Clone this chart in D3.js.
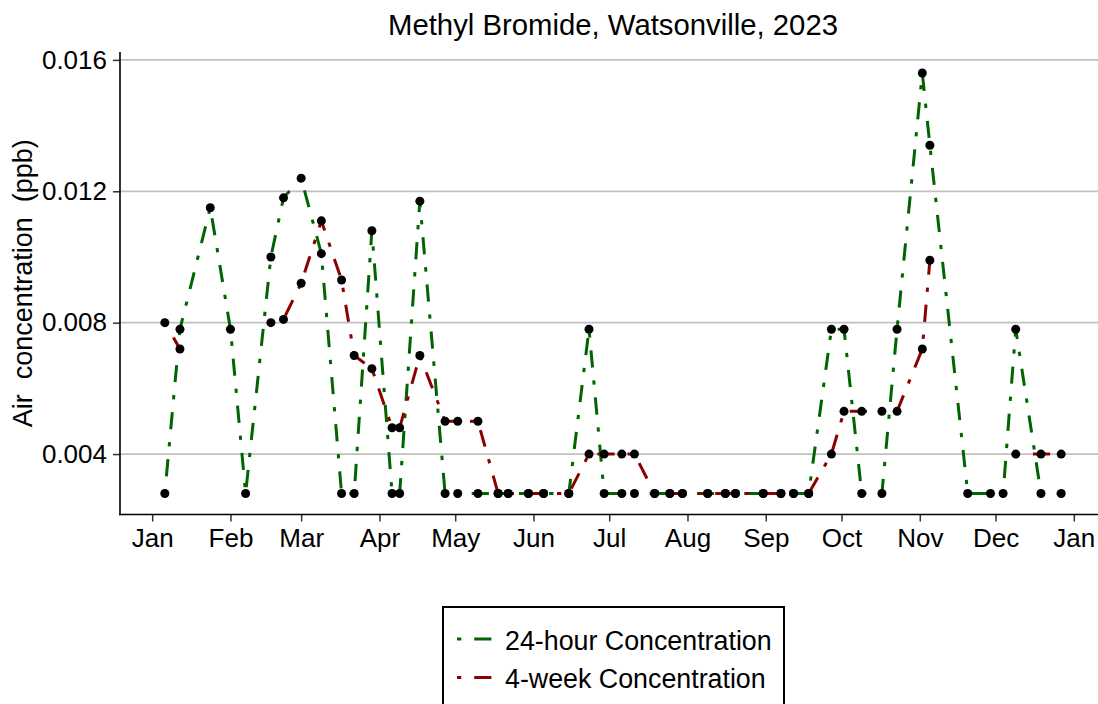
<!DOCTYPE html>
<html>
<head>
<meta charset="utf-8">
<script src="https://cdn.jsdelivr.net/npm/d3@7/dist/d3.min.js"></script>
<style>
  html, body { margin: 0; padding: 0; background: #fff; }
  svg { display: block; }
  text { font-family: "Liberation Sans", Arial, sans-serif; white-space: pre; }
</style>
</head>
<body>
<svg id="chart" width="1098" height="704"></svg>
<script>
// ---------------- data ----------------
const title = "Methyl Bromide, Watsonville, 2023";
const yTitle = "Air  concentration  (ppb)";
const seriesNames = ["24-hour Concentration", "4-week Concentration"];
const seriesColors = ["#006400", "#8b0000"];

const sampleDates = [
  "2023-01-06","2023-01-12","2023-01-24","2023-02-01","2023-02-07","2023-02-17",
  "2023-02-22","2023-03-01","2023-03-09","2023-03-17","2023-03-22","2023-03-29",
  "2023-04-06","2023-04-09","2023-04-17","2023-04-27","2023-05-02","2023-05-10",
  "2023-05-18","2023-05-22","2023-05-30","2023-06-05","2023-06-15","2023-06-23",
  "2023-06-29","2023-07-06","2023-07-11","2023-07-19","2023-07-25","2023-07-30",
  "2023-08-09","2023-08-16","2023-08-20","2023-08-31","2023-09-07","2023-09-12",
  "2023-09-18","2023-09-27","2023-10-02","2023-10-09","2023-10-17","2023-10-23",
  "2023-11-02","2023-11-05","2023-11-20","2023-11-29","2023-12-04","2023-12-09",
  "2023-12-19","2023-12-27"
];

const conc24h = [
  0.0028, 0.0078, 0.0115, 0.0078, 0.0028, 0.0100,
  0.0118, 0.0124, 0.0101, 0.0028, 0.0028, 0.0108,
  0.0028, 0.0028, 0.0117, 0.0028, 0.0028, 0.0028,
  0.0028, 0.0028, 0.0028, 0.0028, 0.0028, 0.0078,
  0.0028, 0.0028, 0.0028, 0.0028, 0.0028, 0.0028,
  0.0028, 0.0028, 0.0028, 0.0028, 0.0028, 0.0028,
  0.0028, 0.0078, 0.0078, 0.0028, 0.0028, 0.0078,
  0.0156, 0.0134, 0.0028, 0.0028, 0.0028, 0.0078,
  0.0028, 0.0028
];

const conc4wk = [
  0.0080, 0.0072, null,   null,   null,   0.0080,
  0.0081, 0.0092, 0.0111, 0.0093, 0.0070, 0.0066,
  0.0048, 0.0048, 0.0070, 0.0050, 0.0050, 0.0050,
  0.0028, 0.0028, 0.0028, 0.0028, 0.0028, 0.0040,
  0.0040, 0.0040, 0.0040, 0.0028, 0.0028, 0.0028,
  0.0028, 0.0028, 0.0028, 0.0028, 0.0028, 0.0028,
  0.0028, 0.0040, 0.0053, 0.0053, 0.0053, 0.0053,
  0.0072, 0.0099, null,   null,   null,   0.0040,
  0.0040, 0.0040
];

const yTickValues = [0.004, 0.008, 0.012, 0.016];
const xTickStart = "2023-01-01", xTickEnd = "2024-01-01";

// ---------------- layout ----------------
const svg = d3.select("#chart");
const panel = { left: 120, right: 1106, top: 52, bottom: 514.5 };
const parse = d3.utcParse("%Y-%m-%d");
const dates = sampleDates.map(parse);

const allVals = conc24h.concat(conc4wk).filter(v => v != null);
const xExt = d3.extent(dates), xSpan = xExt[1] - xExt[0];
const yExt = d3.extent(allVals), ySpan = yExt[1] - yExt[0];

const x = d3.scaleUtc()
  .domain([new Date(+xExt[0] - 0.05 * xSpan), new Date(+xExt[1] + 0.05 * xSpan)])
  .range([panel.left, panel.right]);
const y = d3.scaleLinear()
  .domain([yExt[0] - 0.05 * ySpan, yExt[1] + 0.05 * ySpan])
  .range([panel.bottom, panel.top]);

svg.append("defs").append("clipPath").attr("id", "pclip")
  .append("rect").attr("x", panel.left).attr("y", panel.top - 6)
  .attr("width", panel.right - panel.left).attr("height", panel.bottom - panel.top + 6);

// gridlines
svg.append("g").selectAll("line").data(yTickValues).join("line")
  .attr("x1", panel.left).attr("x2", panel.right)
  .attr("y1", d => y(d)).attr("y2", d => y(d))
  .attr("stroke", "#c0c0c0").attr("stroke-width", 1.8);

// lines
const dash = "4.3,12.9,17.2,12.9";
const seriesVals = [conc24h, conc4wk];
const plotG = svg.append("g").attr("clip-path", "url(#pclip)");
seriesVals.forEach((vals, i) => {
  const line = d3.line()
    .defined((d, j) => vals[j] != null)
    .x((d, j) => x(dates[j]))
    .y((d, j) => y(vals[j]));
  plotG.append("path")
    .attr("d", line(vals))
    .attr("fill", "none")
    .attr("stroke", seriesColors[i])
    .attr("stroke-width", 3)
    .attr("stroke-dasharray", dash)
    .attr("stroke-linecap", "butt");
});

// points
seriesVals.forEach((vals) => {
  plotG.append("g").selectAll("circle")
    .data(vals.map((v, j) => ({ v, d: dates[j] })).filter(p => p.v != null))
    .join("circle")
    .attr("cx", p => x(p.d)).attr("cy", p => y(p.v))
    .attr("r", 4.5).attr("fill", "#000");
});

// axes
const xTicks = d3.utcMonth.range(parse(xTickStart), d3.utcDay.offset(parse(xTickEnd), 1));
const xAxis = d3.axisBottom(x).tickValues(xTicks).tickFormat(d3.utcFormat("%b"))
  .tickSize(7).tickPadding(7).tickSizeOuter(0);
const gx = svg.append("g").attr("transform", `translate(0,${panel.bottom})`).call(xAxis);
gx.select(".domain").remove();
gx.selectAll(".tick line").attr("stroke", "#333").attr("stroke-width", 1.5);
gx.selectAll(".tick text").attr("fill", "#000").style("font-size", "26px")
  .style("font-family", '"Liberation Sans", Arial, sans-serif');

const yAxis = d3.axisLeft(y).tickValues(yTickValues).tickFormat(d3.format(".3f"))
  .tickSize(7).tickPadding(6).tickSizeOuter(0);
const gy = svg.append("g").attr("transform", `translate(${panel.left},0)`).call(yAxis);
gy.select(".domain").remove();
gy.selectAll(".tick line").attr("stroke", "#333").attr("stroke-width", 1.5);
gy.selectAll(".tick text").attr("fill", "#000").style("font-size", "26px")
  .style("font-family", '"Liberation Sans", Arial, sans-serif');

// axis lines
svg.append("line").attr("x1", panel.left).attr("x2", panel.left)
  .attr("y1", panel.top).attr("y2", panel.bottom + 0.75)
  .attr("stroke", "#000").attr("stroke-width", 1.6);
svg.append("line").attr("x1", panel.left - 0.8).attr("x2", panel.right)
  .attr("y1", panel.bottom).attr("y2", panel.bottom)
  .attr("stroke", "#000").attr("stroke-width", 1.6);

// title
svg.append("text").attr("x", (panel.left + panel.right) / 2).attr("y", 35)
  .attr("text-anchor", "middle").style("font-size", "29.3px").attr("fill", "#000")
  .text(title);

// y title
svg.append("text").attr("transform", `translate(31.5,${(panel.top + panel.bottom) / 2}) rotate(-90)`)
  .attr("text-anchor", "middle").style("font-size", "27px").attr("fill", "#000")
  .attr("xml:space", "preserve")
  .text(yTitle);

// legend
const lg = svg.append("g");
lg.append("rect").attr("x", 443).attr("y", 607).attr("width", 341).attr("height", 130)
  .attr("fill", "#fff").attr("stroke", "#000").attr("stroke-width", 2);
const legendY = [639, 677.5];
seriesNames.forEach((name, i) => {
  lg.append("line").attr("x1", 457).attr("x2", 491.5)
    .attr("y1", legendY[i]).attr("y2", legendY[i])
    .attr("stroke", seriesColors[i]).attr("stroke-width", 3)
    .attr("stroke-dasharray", dash);
  lg.append("text").attr("x", 505).attr("y", legendY[i] + 10.5)
    .style("font-size", "26.8px").attr("fill", "#000").text(name);
});
</script>
</body>
</html>
